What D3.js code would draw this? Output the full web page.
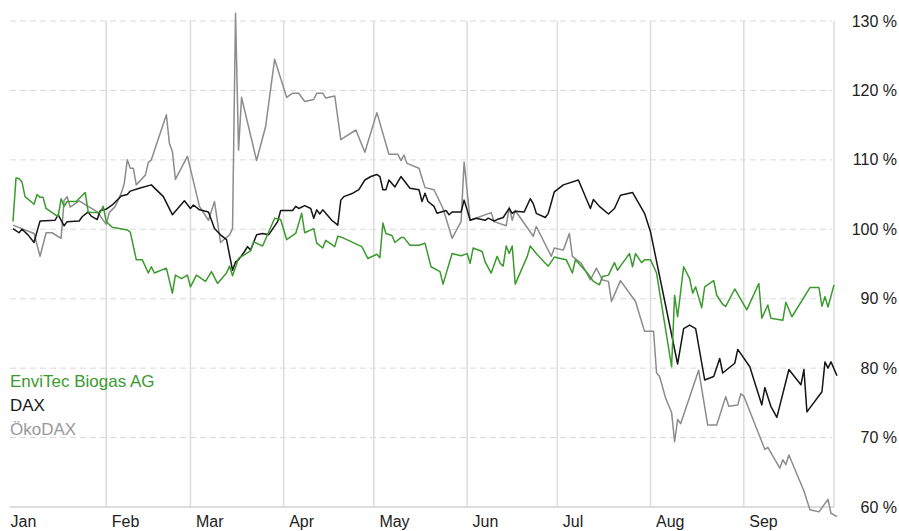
<!DOCTYPE html>
<html>
<head>
<meta charset="utf-8">
<script src="https://cdn.jsdelivr.net/npm/d3@7"></script>
<style>
  body { margin: 0; background: #fff; }
  svg { display: block; font-family: "Liberation Sans", Arial, sans-serif; }
</style>
</head>
<body>
<svg id="chart" width="899" height="531"></svg>
<script>
// values in % of the start value, dates as month-day (2011)
var envitec = [
  ["01-01",101.1],["01-02",107.4],["01-03",107.3],["01-04",106.8],["01-05",104.7],["01-08",103.6],["01-09",105.0],
  ["01-10",104.6],["01-11",104.6],["01-12",103.0],["01-15",102.1],["01-16",101.8],["01-17",104.4],["01-18",103.3],
  ["01-19",104.0],["01-20",104.0],["01-22",104.0],["01-25",105.3],["01-26",102.5],["01-28",102.4],["01-30",102.4],
  ["01-31",103.3],["02-01",101.1],["02-03",100.3],["02-08",99.9],["02-09",99.6],["02-11",95.6],["02-13",95.6],
  ["02-15",93.7],["02-16",94.6],["02-17",93.7],["02-21",94.4],["02-23",90.8],["02-24",93.4],["02-26",92.9],
  ["02-28",93.4],["03-01",91.7],["03-03",93.4],["03-06",92.5],["03-08",93.9],["03-10",92.2],["03-13",93.7],
  ["03-14",94.7],["03-15",93.3],["03-17",95.8],["03-21",96.9],["03-22",98.2],["03-25",97.6],["03-29",101.6],
  ["03-31",101.4],["04-02",98.5],["04-05",99.4],["04-07",102.3],["04-08",99.5],["04-11",100.1],["04-12",98.0],
  ["04-14",97.3],["04-15",98.4],["04-18",97.5],["04-19",99.0],["04-20",98.9],["04-27",97.5],["04-29",95.8],
  ["05-02",96.4],["05-03",95.9],["05-04",100.9],["05-05",99.4],["05-07",99.1],["05-08",98.1],["05-10",98.8],
  ["05-11",98.8],["05-13",97.7],["05-16",97.7],["05-18",98.0],["05-20",94.6],["05-23",93.9],["05-24",92.1],
  ["05-27",96.5],["05-30",96.2],["06-01",96.5],["06-02",95.1],["06-03",97.3],["06-06",96.8],["06-07",95.3],
  ["06-09",93.7],["06-11",96.1],["06-12",95.1],["06-13",94.7],["06-14",97.6],["06-15",96.5],["06-16",97.6],
  ["06-17",92.1],["06-21",96.1],["06-22",97.6],["06-24",96.5],["06-27",95.1],["06-28",94.7],["06-30",96.0],
  ["07-02",95.8],["07-04",95.6],["07-06",93.7],["07-07",95.6],["07-11",93.7],["07-13",92.5],["07-15",92.0],
  ["07-16",93.2],["07-18",93.4],["07-20",95.2],["07-21",94.1],["07-23",95.3],["07-25",96.5],["07-26",94.6],
  ["07-27",96.5],["07-29",95.2],["07-30",95.6],["08-01",95.6],["08-03",93.7],["08-08",80.2],["08-09",90.5],
  ["08-10",87.4],["08-12",94.6],["08-14",92.9],["08-15",90.8],["08-16",91.7],["08-18",88.7],["08-19",91.7],
  ["08-22",92.6],["08-23",90.5],["08-25",89.2],["08-26",88.9],["08-29",91.4],["09-02",88.4],["09-06",92.2],
  ["09-07",87.2],["09-09",89.1],["09-10",87.2],["09-14",86.9],["09-15",89.5],["09-17",87.4],["09-23",91.6],
  ["09-26",91.6],["09-27",88.9],["09-28",90.3],["09-29",88.8],["10-01",92.0]
];

var dax = [
  ["01-01",100.1],["01-03",99.5],["01-04",100.0],["01-06",99.2],["01-08",98.1],["01-09",99.7],["01-10",101.2],
  ["01-15",101.3],["01-16",102.1],["01-18",100.5],["01-19",101.1],["01-23",101.2],["01-24",101.8],["01-26",102.5],
  ["01-27",101.9],["01-29",101.4],["01-30",102.7],["02-01",102.9],["02-03",103.5],["02-06",104.8],["02-08",105.0],
  ["02-09",105.5],["02-12",105.9],["02-16",106.4],["02-20",104.7],["02-23",102.1],["02-27",104.1],["03-01",103.0],
  ["03-02",103.5],["03-04",102.8],["03-07",102.5],["03-09",100.1],["03-11",99.2],["03-13",98.5],["03-15",94.1],
  ["03-16",95.3],["03-17",95.6],["03-19",96.8],["03-20",97.5],["03-21",97.0],["03-23",99.2],["03-25",99.4],
  ["03-27",99.2],["03-30",101.1],["03-31",102.7],["04-04",102.7],["04-05",103.3],["04-06",103.0],["04-08",103.4],
  ["04-10",103.0],["04-11",101.6],["04-12",102.8],["04-13",102.2],["04-14",102.8],["04-17",101.3],["04-19",100.6],
  ["04-20",104.2],["04-21",104.7],["04-24",105.2],["04-26",105.7],["04-28",107.1],["04-30",107.6],["05-02",107.9],
  ["05-03",107.6],["05-04",105.7],["05-05",105.7],["05-06",107.1],["05-08",106.1],["05-10",107.6],["05-13",105.9],
  ["05-16",105.7],["05-17",104.0],["05-18",105.2],["05-19",104.0],["05-21",103.3],["05-22",102.3],["05-25",102.7],
  ["05-26",102.1],["05-27",102.5],["05-30",102.5],["05-31",104.2],["06-01",102.8],["06-02",101.3],["06-04",101.6],
  ["06-07",101.3],["06-08",101.6],["06-10",101.2],["06-11",101.4],["06-13",101.7],["06-15",103.0],["06-16",102.3],
  ["06-17",102.6],["06-20",102.5],["06-22",104.4],["06-23",103.7],["06-24",102.3],["06-27",101.7],["06-28",102.3],
  ["06-30",105.4],["07-03",106.4],["07-08",107.1],["07-12",103.0],["07-13",104.3],["07-15",103.3],["07-18",102.2],
  ["07-20",103.0],["07-22",104.9],["07-26",105.3],["07-30",102.3],["08-01",99.6],["08-10",80.6],["08-12",85.7],
  ["08-14",86.2],["08-16",85.7],["08-19",78.3],["08-22",78.8],["08-24",81.4],["08-25",79.3],["08-29",80.7],
  ["08-30",82.7],["09-03",80.2],["09-07",74.7],["09-08",77.2],["09-10",74.5],["09-12",72.9],["09-16",79.8],
  ["09-20",77.6],["09-21",79.8],["09-22",73.7],["09-27",76.6],["09-28",80.9],["09-29",80.0],["09-30",80.9],
  ["10-02",78.9]
];

var oekodax = [
  ["01-01",100.6],["01-08",99.4],["01-10",96.1],["01-12",99.5],["01-14",99.5],["01-17",98.7],["01-18",104.2],
  ["01-19",104.7],["01-20",103.2],["01-23",104.1],["01-29",102.5],["02-01",100.7],["02-02",102.4],["02-04",103.3],
  ["02-06",105.2],["02-07",106.6],["02-08",110.0],["02-09",108.8],["02-10",108.8],["02-11",106.4],["02-14",107.8],
  ["02-15",109.6],["02-16",110.0],["02-21",116.5],["02-22",112.4],["02-23",111.2],["02-24",107.2],["02-28",110.5],
  ["03-04",103.3],["03-07",101.3],["03-09",104.0],["03-11",98.1],["03-14",99.2],["03-15",100.1],["03-16",131.1],
  ["03-17",111.4],["03-18",119.0],["03-23",109.9],["03-26",114.8],["03-29",124.5],["04-02",119.0],["04-04",119.6],
  ["04-06",119.6],["04-08",118.4],["04-11",118.7],["04-12",119.6],["04-14",119.6],["04-15",118.9],["04-18",119.2],
  ["04-20",112.9],["04-25",114.3],["04-28",111.1],["05-02",116.8],["05-06",110.8],["05-09",110.8],["05-10",109.9],
  ["05-11",110.7],["05-12",109.5],["05-16",108.8],["05-18",106.0],["05-21",105.7],["05-24",103.0],["05-27",98.7],
  ["05-30",101.1],["05-31",109.7],["06-02",101.3],["06-09",102.4],["06-10",101.1],["06-14",100.5],["06-15",103.2],
  ["06-16",101.3],["06-17",102.7],["06-23",99.0],["06-24",100.4],["06-29",96.1],["06-30",97.3],["07-03",97.0],
  ["07-04",98.2],["07-05",99.4],["07-06",96.1],["07-09",95.1],["07-12",92.7],["07-14",94.4],["07-16",92.7],
  ["07-18",92.5],["07-19",89.6],["07-22",92.6],["07-27",89.6],["07-30",85.3],["08-02",85.3],["08-03",79.3],
  ["08-04",78.8],["08-06",75.7],["08-08",73.6],["08-09",69.4],["08-10",72.6],["08-11",72.0],["08-17",79.7],
  ["08-20",71.8],["08-23",71.8],["08-26",75.9],["08-27",74.5],["08-30",74.7],["08-31",76.3],["09-01",76.0],
  ["09-08",68.3],["09-09",68.6],["09-13",65.6],["09-14",66.8],["09-15",66.1],["09-16",67.5],["09-21",62.3],
  ["09-23",59.6],["09-26",59.3],["09-29",61.1],["09-30",59.1],["10-02",58.6]
];

var seriesNames = ["EnviTec Biogas AG", "DAX", "ÖkoDAX"];
var monthStarts = ["01-01","02-01","03-01","04-01","05-01","06-01","07-01","08-01","09-01"];
var yTicks = [60, 70, 80, 90, 100, 110, 120, 130];

var colors = { "EnviTec Biogas AG": "#3b9a2e", "DAX": "#151515", "ÖkoDAX": "#8c8c8c" };
var legendColors = { "EnviTec Biogas AG": "#3b9a2e", "DAX": "#1a1a1a", "ÖkoDAX": "#999999" };

var parseDay = d3.timeParse("%Y-%m-%d");
function toDate(md) { return parseDay("2011-" + md); }
function toPoints(arr) {
  return arr.map(d => ({ date: toDate(d[0]), value: d[1] }));
}

var svg = d3.select("#chart");

var plotLeft = 13, plotRight = 834, plotTop = 21, plotBottom = 507;

var x = d3.scaleTime()
  .domain([toDate("01-01"), toDate("10-01")])
  .range([plotLeft, plotRight]);

var y = d3.scaleLinear()
  .domain([60, 130])
  .range([plotBottom, plotTop]);

// horizontal dashed grid
svg.append("g")
  .selectAll("line")
  .data(yTicks.filter(v => v > 60))
  .join("line")
  .attr("x1", 10)
  .attr("x2", 832)
  .attr("y1", d => y(d))
  .attr("y2", d => y(d))
  .attr("stroke", "#d9d9d9")
  .attr("stroke-width", 1)
  .attr("stroke-dasharray", "6,4");

// vertical month lines (plus the end of the range)
var gridDates = monthStarts.slice(1).map(toDate).concat([toDate("10-01")]);
svg.append("g")
  .selectAll("line")
  .data(gridDates)
  .join("line")
  .attr("x1", d => x(d))
  .attr("x2", d => x(d))
  .attr("y1", plotTop)
  .attr("y2", plotBottom)
  .attr("stroke", "#dcdcdc")
  .attr("stroke-width", 1.5);

// base line
svg.append("line")
  .attr("x1", 10)
  .attr("x2", plotRight)
  .attr("y1", plotBottom)
  .attr("y2", plotBottom)
  .attr("stroke", "#dcdcdc")
  .attr("stroke-width", 2);

// y axis on the right
var yAxis = d3.axisRight(y)
  .tickValues(yTicks)
  .tickFormat(d => d + " %")
  .tickSize(0)
  .tickPadding(0);

var yG = svg.append("g")
  .attr("transform", "translate(897,0)")
  .call(yAxis);
yG.select(".domain").remove();
yG.selectAll("text")
  .attr("text-anchor", "end")
  .attr("font-size", 16)
  .attr("font-family", "Liberation Sans, Arial, sans-serif")
  .attr("fill", "#222");

// x axis month labels
var xAxis = d3.axisBottom(x)
  .tickValues(monthStarts.map(toDate))
  .tickFormat(d3.timeFormat("%b"))
  .tickSize(0)
  .tickPadding(9);

var xG = svg.append("g")
  .attr("transform", "translate(0," + plotBottom + ")")
  .call(xAxis);
xG.select(".domain").remove();
xG.selectAll("text")
  .attr("text-anchor", "start")
  .attr("dx", (d, i) => i === 0 ? -3 : 5)
  .attr("font-size", 16)
  .attr("font-family", "Liberation Sans, Arial, sans-serif")
  .attr("fill", "#222");

// lines
var line = d3.line()
  .x(d => x(d.date))
  .y(d => y(d.value));

var seriesData = {
  "EnviTec Biogas AG": toPoints(envitec),
  "DAX": toPoints(dax),
  "ÖkoDAX": toPoints(oekodax)
};

["ÖkoDAX", "DAX", "EnviTec Biogas AG"].forEach(function(name) {
  svg.append("path")
    .datum(seriesData[name])
    .attr("fill", "none")
    .attr("stroke", colors[name])
    .attr("stroke-width", 1.5)
    .attr("stroke-linejoin", "round")
    .attr("d", line);
});

// legend
svg.append("g")
  .selectAll("text")
  .data(seriesNames)
  .join("text")
  .attr("x", 10)
  .attr("y", (d, i) => 386.5 + i * 24)
  .attr("font-size", 17)
  .attr("fill", d => legendColors[d])
  .text(d => d);
</script>
</body>
</html>
